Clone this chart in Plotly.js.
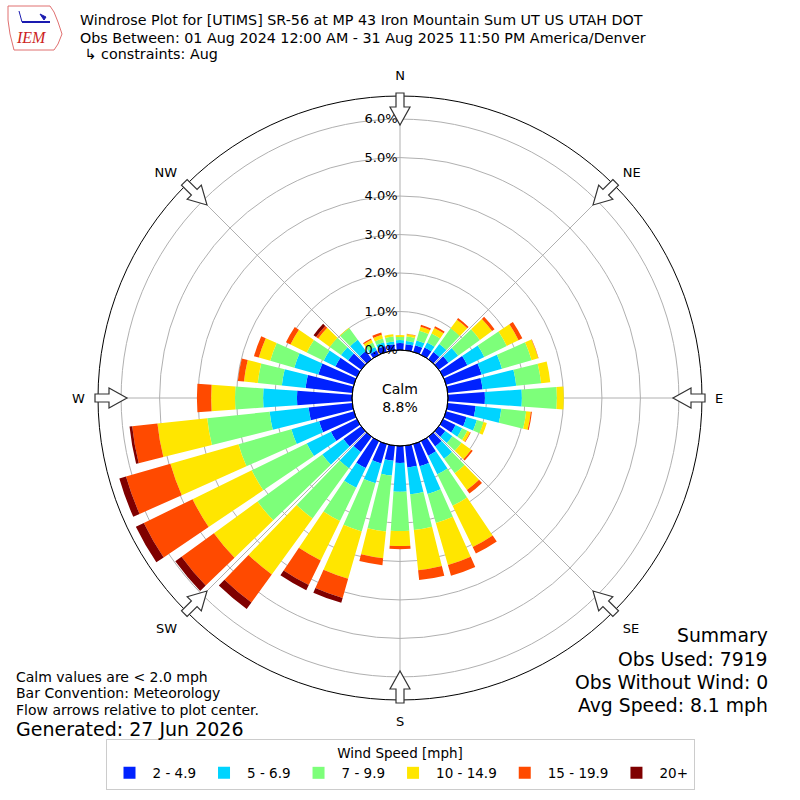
<!DOCTYPE html>
<html>
<head>
<meta charset="utf-8">
<script src="https://cdn.plot.ly/plotly-3.0.1.min.js"></script>
<style>html,body{margin:0;padding:0;background:#fff;}#chart{width:800px;height:800px;}</style>
</head>
<body>
<div id="chart"></div>
<script>
// Direction bins (degrees, meteorological)
const directions = [0,10,20,30,40,50,60,70,80,90,100,110,120,130,140,150,160,170,
                    180,190,200,210,220,230,240,250,260,270,280,290,300,310,320,330,340,350];
// Speed bin labels
const speedBins = ['2 - 4.9','5 - 6.9','7 - 9.9','10 - 14.9','15 - 19.9','20+'];
const speedColors = ['#0022ff','#00d4ff','#7dff7a','#ffe600','#ff4a00','#7f0000'];
// Frequency (%) per direction for each speed bin
const speed2to5   = [0.18,0.16,0.18,0.21,0.23,0.31,0.70,0.96,0.91,0.96,0.73,0.55,0.36,0.21,0.31,0.42,0.60,0.57,0.44,0.39,0.52,0.78,0.49,0.57,0.75,0.94,1.14,1.43,1.22,0.96,0.62,0.42,0.26,0.13,0.16,0.16];
const speed5to7   = [0.08,0.08,0.13,0.15,0.26,0.31,0.49,0.55,0.88,0.96,0.67,0.28,0.19,0.23,0.39,0.54,0.75,0.70,0.75,0.39,0.54,0.57,0.52,0.68,0.70,0.75,1.02,0.88,0.62,0.65,0.34,0.23,0.36,0.10,0.10,0.07];
const speed7to10  = [0.08,0.12,0.26,0.26,0.50,0.70,0.65,0.80,0.65,0.91,0.65,0.18,0.15,0.29,0.47,0.91,0.78,0.93,1.02,1.46,1.30,0.96,1.61,2.08,1.59,1.43,1.63,0.73,0.63,0.65,0.49,0.36,0.37,0.13,0.10,0.13];
const speed10to15 = [0.05,0.06,0.11,0.16,0.28,0.39,0.34,0.18,0.24,0.18,0.12,0.09,0.08,0.31,0.54,1.19,1.14,1.05,0.39,0.70,1.28,1.14,1.80,1.40,1.71,1.84,1.30,0.62,0.36,0.31,0.47,0.37,0.02,0.08,0.10,0.06];
const speed15to20 = [0,0.01,0.05,0.05,0.05,0.08,0.11,0.01,0,0,0.03,0,0.02,0.05,0.11,0.19,0.29,0.26,0.08,0.18,0.52,0.71,0.90,1.04,1.41,1.20,0.66,0.37,0.16,0.13,0.13,0.07,0,0.03,0.06,0];
const speed20plus = [0,0,0,0,0,0,0,0,0,0,0,0,0,0,0,0,0,0,0,0,0.13,0.15,0.21,0.20,0.23,0.18,0.07,0,0,0,0,0.08,0,0,0,0];
const seriesValues = [speed2to5, speed5to7, speed7to10, speed10to15, speed15to20, speed20plus];

const compassVals = [0,45,90,135,180,225,270,315];
const compassText = ['N','NE','E','SE','S','SW','W','NW'];
const radialTicks = [0,1,2,3,4,5,6];
const radialTickText = ['0.0%','1.0%','2.0%','3.0%','4.0%','5.0%','6.0%'];
const calmPct = '8.8%';

const traces = seriesValues.map((vals, i) => ({
  type: 'barpolar',
  name: speedBins[i],
  r: vals,
  theta: directions,
  width: directions.map(() => 8),
  marker: {color: speedColors[i], line: {width: 0}},
  hoverinfo: 'skip'
}));

// geometry of the polar area in pixels
const W = 800, H = 800;
const cx = 400, cy = 398, R = 302;
const px = x => x / W, py = y => 1 - y / H;
const P = (x, y) => px(x).toFixed(5) + ',' + py(y).toFixed(5);

// flow arrows at compass points (decoration)
const shapes = [];
compassVals.forEach(a => {
  const t = a * Math.PI / 180;
  const ux = Math.sin(t), uy = -Math.cos(t);
  const vx = Math.cos(t), vy = Math.sin(t);
  const pts = [[R+3,-4],[R+3,4],[R-11,4],[R-11,10],[R-29,0],[R-11,-10],[R-11,-4]];
  const d = pts.map((p, k) => (k === 0 ? 'M' : 'L') +
      P(cx + p[0]*ux + p[1]*vx, cy + p[0]*uy + p[1]*vy)).join(' ') + ' Z';
  shapes.push({type: 'path', xref: 'paper', yref: 'paper', path: d,
    fillcolor: 'white', line: {color: '#333333', width: 1.2}, layer: 'above'});
});
// inner hole border
const hr = 48;
shapes.push({type: 'circle', xref: 'paper', yref: 'paper',
  x0: px(cx - hr), x1: px(cx + hr), y0: py(cy + hr), y1: py(cy - hr),
  line: {color: 'black', width: 1}, fillcolor: 'rgba(0,0,0,0)', layer: 'above'});
// simple IEM logo (state outline + wind symbol)
shapes.push({type: 'path', xref: 'paper', yref: 'paper',
  path: 'M' + P(8, 6) + ' L' + P(50, 6) + ' L' + P(54, 12) + ' L' + P(58, 22) + ' L' + P(62, 34) +
        ' L' + P(58, 44) + ' L' + P(54, 50) + ' L' + P(14, 50) + ' L' + P(10, 34) + ' L' + P(8, 20) + ' Z',
  line: {color: '#e07070', width: 1}, fillcolor: 'rgba(0,0,0,0)'});
shapes.push({type: 'line', xref: 'paper', yref: 'paper', x0: px(22), x1: px(50), y0: py(22), y1: py(22),
  line: {color: '#1a1ab0', width: 2}});
shapes.push({type: 'path', xref: 'paper', yref: 'paper',
  path: 'M' + P(40, 14) + ' L' + P(46, 17) + ' L' + P(44, 20) + ' Z',
  line: {color: '#1a1ab0', width: 1}, fillcolor: '#1a1ab0'});
shapes.push({type: 'line', xref: 'paper', yref: 'paper', x0: px(19), x1: px(22), y0: py(11), y1: py(22),
  line: {color: '#1a1ab0', width: 1}});

const ann = (x, y, text, size, anchor, extra) => Object.assign({
  xref: 'paper', yref: 'paper', x: px(x), y: py(y), text: text, showarrow: false,
  xanchor: anchor, yanchor: 'middle', font: {size: size, color: 'black', family: 'DejaVu Sans'}
}, extra || {});

const annotations = [
  ann(78, 20, 'Windrose Plot for [UTIMS] SR-56 at MP 43 Iron Mountain Sum UT US UTAH DOT', 14.3, 'left'),
  ann(78, 38, 'Obs Between: 01 Aug 2024 12:00 AM - 31 Aug 2025 11:50 PM America/Denver', 14.3, 'left'),
  ann(78, 54, ' \u21b3 constraints: Aug', 14.3, 'left'),
  ann(31, 38, '<i>IEM</i>', 16, 'center', {font: {size: 16, color: '#cc2222', family: 'Liberation Serif'}}),
  ann(cx, cy, 'Calm<br>' + calmPct, 14, 'center'),
  ann(14, 677, 'Calm values are < 2.0 mph', 14, 'left'),
  ann(14, 693, 'Bar Convention: Meteorology', 14, 'left'),
  ann(14, 710, 'Flow arrows relative to plot center.', 14, 'left'),
  ann(14, 729, 'Generated: 27 Jun 2026', 19, 'left'),
  ann(770, 635, 'Summary', 18.8, 'right'),
  ann(770, 659, 'Obs Used: 7919', 18.8, 'right'),
  ann(770, 682, 'Obs Without Wind: 0', 18.8, 'right'),
  ann(770, 705, 'Avg Speed: 8.1 mph', 18.8, 'right')
];

const layout = {
  width: W, height: H,
  margin: {l: 0, r: 0, t: 0, b: 0},
  paper_bgcolor: 'white',
  font: {family: 'DejaVu Sans', size: 13, color: 'black'},
  showlegend: true,
  legend: {
    orientation: 'h', x: 0.5, xanchor: 'center', y: py(790), yanchor: 'bottom',
    title: {text: 'Wind Speed [mph]', side: 'top center', font: {size: 13.5}},
    bordercolor: '#cccccc', borderwidth: 1, bgcolor: 'white',
    font: {size: 13.5}, traceorder: 'normal', itemwidth: 36
  },
  polar: {
    domain: {x: [px(cx - R), px(cx + R)], y: [py(cy + R), py(cy - R)]},
    hole: hr / R,
    bgcolor: 'white',
    barmode: 'stack',
    angularaxis: {
      rotation: 90, direction: 'clockwise',
      tickmode: 'array', tickvals: compassVals, ticktext: compassText,
      showgrid: true, gridcolor: '#b0b0b0', gridwidth: 1,
      showline: true, linecolor: 'black', linewidth: 1,
      ticks: 'outside', ticklen: 10, tickcolor: 'rgba(0,0,0,0)',
      tickfont: {size: 13}
    },
    radialaxis: {
      range: [0, 6.6], angle: 90, tickangle: 90,
      tickmode: 'array', tickvals: radialTicks, ticktext: radialTickText,
      showline: false, showgrid: true, gridcolor: '#b0b0b0', gridwidth: 1,
      ticks: '', tickfont: {size: 13}, side: 'counterclockwise'
    }
  },
  shapes: shapes,
  annotations: annotations
};

Plotly.newPlot('chart', traces, layout, {staticPlot: true, displayModeBar: false});
</script>
</body>
</html>
